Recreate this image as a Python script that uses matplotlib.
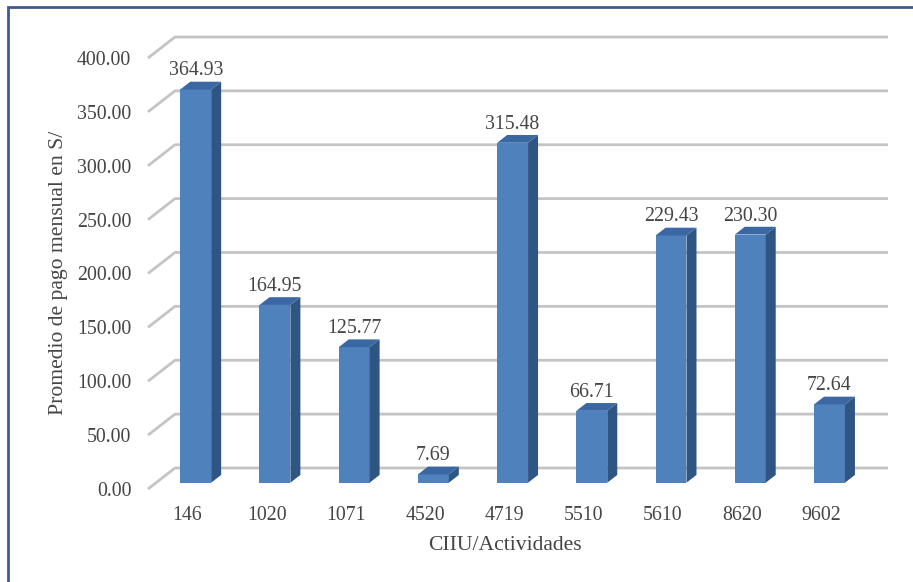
import numpy as np
import matplotlib
matplotlib.use("Agg")
import matplotlib.pyplot as plt
from matplotlib.patches import Polygon, Rectangle

# data
categories = ["146", "1020", "1071", "4520", "4719", "5510", "5610", "8620", "9602"]
values = [364.93, 164.95, 125.77, 7.69, 315.48, 66.71, 229.43, 230.30, 72.64]
y_ticks = [0, 50, 100, 150, 200, 250, 300, 350, 400]

TEXT = "#454545"
FRONT = "#4f81bd"
SIDE = "#2f5583"
TOP = "#3b67a2"
GRID = "#c4c4c4"

plt.rcParams["font.family"] = ["Liberation Serif", "DejaVu Serif"]

fig = plt.figure(figsize=(9.13, 5.82), dpi=100)
ax = fig.add_axes([148 / 913, 1 - 489 / 582, 713 / 913, 431 / 582])
ax.set_xlim(-0.5, len(categories) - 0.5)
ax.set_ylim(0, 400)

# fake 3d: depth of the floor/back wall in data units
DX, DY = 0.341, 19.5
bar_off = 0.30      # bar front plane position in depth
bar_depth = 0.37    # bar thickness in depth
width = 0.39

# gridlines: diagonal on the side wall + line on the back wall
x_left, x_right = ax.get_xlim()
for v in y_ticks:
    ax.plot([x_left, x_left + DX, x_right + DX], [v, v + DY, v + DY],
            color=GRID, lw=2, zorder=1, clip_on=False, solid_capstyle="butt")

x = np.arange(len(categories))
fx, fy = bar_off * DX, bar_off * DY
dx, dy = bar_depth * DX, bar_depth * DY

ax.bar(x + fx, values, width=width, bottom=fy, color=FRONT, zorder=3, clip_on=False)
for xi, v in zip(x, values):
    xl = xi + fx - width / 2
    xr = xi + fx + width / 2
    top = fy + v
    side = Polygon([(xr, fy), (xr, top), (xr + dx, top + dy), (xr + dx, fy + dy)],
                   closed=True, facecolor=SIDE, edgecolor="none", zorder=3, clip_on=False)
    cap = Polygon([(xl, top), (xr, top), (xr + dx, top + dy), (xl + dx, top + dy)],
                  closed=True, facecolor=TOP, edgecolor="none", zorder=3, clip_on=False)
    ax.add_patch(side)
    ax.add_patch(cap)
    ax.annotate(f"{v:.2f}", (xi + fx, top), xytext=(0, 6.5), textcoords="offset points",
                ha="center", va="bottom", fontsize=14.3, color=TEXT)

ax.set_xticks(x)
ax.set_xticklabels(categories)
ax.set_yticks(y_ticks)
ax.set_yticklabels([f"{t:.2f}" for t in y_ticks])
ax.tick_params(axis="both", length=0, labelsize=14.3, labelcolor=TEXT)
ax.tick_params(axis="y", pad=12)
ax.tick_params(axis="x", pad=12.5)
for s in ax.spines.values():
    s.set_visible(False)
ax.patch.set_visible(False)

ax.set_xlabel("CIIU/Actividades", fontsize=15.6, color=TEXT, va="center")
ax.xaxis.set_label_coords(0.5007, -0.13)
ax.set_ylabel("Promedio de pago mensual en S/", fontsize=15.6, color=TEXT, va="center")
ax.yaxis.set_label_coords(-0.125, 0.501)

# outer frame
fig.patches.append(Rectangle((8 / 913, -0.1), 1.2, 1.1 - 7 / 582, transform=fig.transFigure,
                             fill=False, edgecolor="#3f5b8c", lw=2))

fig.savefig("out.png", dpi=100)
